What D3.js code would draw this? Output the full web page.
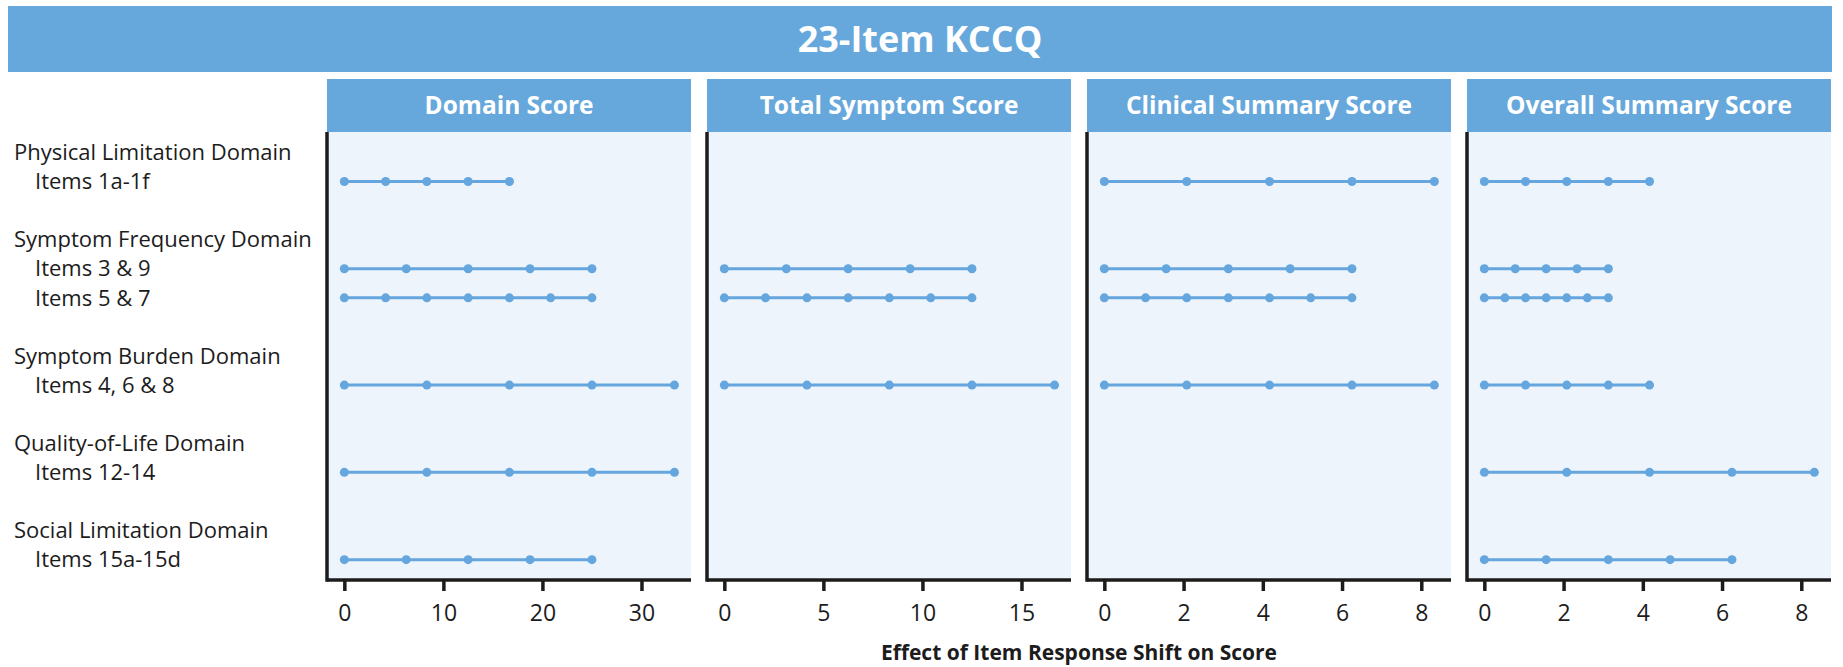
<!DOCTYPE html>
<html>
<head>
<meta charset="utf-8">
<script src="https://cdn.jsdelivr.net/npm/d3@7"></script>
<style>
  html, body { margin: 0; padding: 0; background: #ffffff; }
  svg { display: block; }
  text { font-family: "Open Sans", "Noto Sans", sans-serif; }
</style>
</head>
<body>
<svg id="chart" width="1843" height="667"></svg>
<script>
// ---- data ----------------------------------------------------------------
const chartTitle = "23-Item KCCQ";
const axisTitle = "Effect of Item Response Shift on Score";

const panelTitles = ["Domain Score", "Total Symptom Score", "Clinical Summary Score", "Overall Summary Score"];
const panelMax = [35, 17.5, 8.75, 8.75];
const panelTicks = [[0, 10, 20, 30], [0, 5, 10, 15], [0, 2, 4, 6, 8], [0, 2, 4, 6, 8]];

// left-hand labels: slot index, text, indented item line or domain heading
const labelSlots = [0, 1, 3, 4, 5, 7, 8, 10, 11, 13, 14];
const labelTexts = [
  "Physical Limitation Domain", "Items 1a-1f",
  "Symptom Frequency Domain", "Items 3 & 9", "Items 5 & 7",
  "Symptom Burden Domain", "Items 4, 6 & 8",
  "Quality-of-Life Domain", "Items 12-14",
  "Social Limitation Domain", "Items 15a-15d"
];
const labelIsItem = [false, true, false, true, true, false, true, false, true, false, true];

// item rows (slot of each item line)
const itemNames = ["Items 1a-1f", "Items 3 & 9", "Items 5 & 7", "Items 4, 6 & 8", "Items 12-14", "Items 15a-15d"];
const itemSlots = [1, 4, 5, 8, 11, 14];

// score change for each response level, per panel (null = item not in score)
const domainScore = [
  [0, 4.17, 8.33, 12.5, 16.67],
  [0, 6.25, 12.5, 18.75, 25],
  [0, 4.17, 8.33, 12.5, 16.67, 20.83, 25],
  [0, 8.33, 16.67, 25, 33.33],
  [0, 8.33, 16.67, 25, 33.33],
  [0, 6.25, 12.5, 18.75, 25]
];
const totalSymptomScore = [
  null,
  [0, 3.13, 6.25, 9.38, 12.5],
  [0, 2.08, 4.17, 6.25, 8.33, 10.42, 12.5],
  [0, 4.17, 8.33, 12.5, 16.67],
  null,
  null
];
const clinicalSummaryScore = [
  [0, 2.08, 4.17, 6.25, 8.33],
  [0, 1.56, 3.13, 4.69, 6.25],
  [0, 1.04, 2.08, 3.13, 4.17, 5.21, 6.25],
  [0, 2.08, 4.17, 6.25, 8.33],
  null,
  null
];
const overallSummaryScore = [
  [0, 1.04, 2.08, 3.13, 4.17],
  [0, 0.78, 1.56, 2.34, 3.13],
  [0, 0.52, 1.04, 1.56, 2.08, 2.6, 3.13],
  [0, 1.04, 2.08, 3.13, 4.17],
  [0, 2.08, 4.17, 6.25, 8.33],
  [0, 1.56, 3.13, 4.69, 6.25]
];
const panelSeries = [domainScore, totalSymptomScore, clinicalSummaryScore, overallSummaryScore];

// ---- layout --------------------------------------------------------------
const blue = "#67a8dc";
const markBlue = "#64a6dd";
const plotBg = "#eef4fb";
const ink = "#1c1c1c";

const banner = { x: 8, y: 6, w: 1824, h: 66 };
const panelLeft0 = 327, panelW = 364, panelStep = 380;
const headerTop = 79, headerBottom = 132, axisY = 580;

const svg = d3.select("#chart");

// title banner
svg.append("rect")
  .attr("x", banner.x).attr("y", banner.y)
  .attr("width", banner.w).attr("height", banner.h)
  .attr("fill", blue);
svg.append("text")
  .attr("x", banner.x + banner.w / 2).attr("y", banner.y + banner.h / 2)
  .attr("dy", "0.36em")
  .attr("text-anchor", "middle")
  .attr("fill", "#ffffff")
  .attr("font-size", 36).attr("font-weight", 700)
  .text(chartTitle);

// shared vertical scale over label slots
const y = d3.scaleLinear().domain([-0.7, 14.7]).range([headerBottom, axisY]);

// row labels
svg.append("g").selectAll("text")
  .data(labelTexts)
  .join("text")
  .attr("x", (d, i) => labelIsItem[i] ? 35 : 14)
  .attr("y", (d, i) => y(labelSlots[i]))
  .attr("dy", "0.35em")
  .attr("font-size", 22)
  .attr("fill", ink)
  .text(d => d);

// panels
const panelX = d3.scaleLinear().domain([0, 1]).range([panelLeft0, panelLeft0 + panelStep]);

panelTitles.forEach((title, p) => {
  const left = panelX(p);
  const g = svg.append("g").attr("transform", `translate(${left},0)`);

  const x = d3.scaleLinear()
    .domain([-0.05 * panelMax[p], panelMax[p]])
    .range([0, panelW]);

  // plot background
  g.append("rect")
    .attr("x", 0).attr("y", headerBottom)
    .attr("width", panelW).attr("height", axisY - headerBottom)
    .attr("fill", plotBg);

  // header strip
  g.append("rect")
    .attr("x", 0).attr("y", headerTop)
    .attr("width", panelW).attr("height", headerBottom - headerTop)
    .attr("fill", blue);
  g.append("text")
    .attr("x", panelW / 2).attr("y", (headerTop + headerBottom) / 2)
    .attr("dy", "0.36em")
    .attr("text-anchor", "middle")
    .attr("fill", "#ffffff")
    .attr("font-size", 24.5).attr("font-weight", 700)
    .text(title);

  // response-level ladders
  const rows = panelSeries[p]
    .map((vals, i) => ({ vals, slot: itemSlots[i], name: itemNames[i] }))
    .filter(r => r.vals);

  const rowG = g.append("g").selectAll("g")
    .data(rows)
    .join("g")
    .attr("transform", d => `translate(0,${y(d.slot)})`);

  rowG.append("line")
    .attr("x1", d => x(d3.min(d.vals)))
    .attr("x2", d => x(d3.max(d.vals)))
    .attr("stroke", markBlue)
    .attr("stroke-width", 3);

  rowG.selectAll("circle")
    .data(d => d.vals)
    .join("circle")
    .attr("cx", v => x(v))
    .attr("r", 4.5)
    .attr("fill", markBlue);

  // x axis
  const axis = d3.axisBottom(x)
    .tickValues(panelTicks[p])
    .tickSize(11)
    .tickSizeOuter(0)
    .tickPadding(14);
  const ax = g.append("g").attr("transform", `translate(0,${axisY})`).call(axis);
  ax.select(".domain").remove();
  ax.selectAll(".tick line").attr("stroke", ink).attr("stroke-width", 3.5);
  ax.selectAll(".tick text")
    .attr("font-family", "Open Sans, sans-serif")
    .attr("font-size", 23)
    .attr("fill", ink);

  // axis frame: left spine and baseline
  g.append("line")
    .attr("x1", 0).attr("x2", 0)
    .attr("y1", headerBottom).attr("y2", axisY + 1.75)
    .attr("stroke", ink).attr("stroke-width", 3.5);
  g.append("line")
    .attr("x1", 0).attr("x2", panelW)
    .attr("y1", axisY).attr("y2", axisY)
    .attr("stroke", ink).attr("stroke-width", 3.5);
});

// shared x-axis title
svg.append("text")
  .attr("x", (panelX(0) + panelX(3) + panelW) / 2)
  .attr("y", 652)
  .attr("dy", "0.36em")
  .attr("text-anchor", "middle")
  .attr("font-size", 21).attr("font-weight", 700)
  .attr("fill", ink)
  .text(axisTitle);
</script>
</body>
</html>
